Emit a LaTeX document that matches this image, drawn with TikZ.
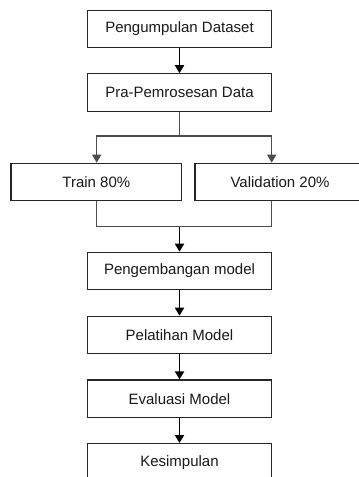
\documentclass[tikz,border=0pt]{standalone}
\usepackage{fontspec}
\setmainfont{Liberation Sans}
\usetikzlibrary{arrows.meta}
\begin{document}
\begin{tikzpicture}[x=1pt,y=-1pt,
  box/.style={draw=black!85, line width=1.1pt, fill=white, inner sep=0pt,
    minimum height=37.5pt, text=black!90, font=\fontsize{15}{17}\selectfont},
  mainbox/.style={box, minimum width=184.4pt},
  flow/.style={draw=black, line width=1.8pt, -{Triangle[width=9pt,length=8pt]}},
  split/.style={draw=black!70, line width=1.2pt},
  splitarrow/.style={split, -{Triangle[width=9pt,length=8pt]}}
]
\useasboundingbox (0,0) rectangle (359,477);
\clip (0,0) rectangle (359,477);
\node[mainbox] (b1) at (179.5,29) {Pengumpulan Dataset};
\node[mainbox] (b2) at (179.5,92.5) {Pra-Pemrosesan Data};
\node[box, minimum width=170.7pt] (train) at (96.3,182) {Train 80\%};
\node[box, minimum width=170pt] (val) at (280,182) {Validation 20\%};
\node[mainbox] (b3) at (179.5,271) {Pengembangan model};
\node[mainbox] (b4) at (179.5,335) {Pelatihan Model};
\node[mainbox] (b5) at (179.5,398.7) {Evaluasi Model};
\node[mainbox] (b6) at (179.5,462.3) {Kesimpulan};
\coordinate (sp) at (179.5,136);
\coordinate (mg) at (179.5,226.7);
\draw[flow] (b1) -- (b2);
\draw[split] (b2.south) -- (sp);
\draw[splitarrow] (sp) -| (train.north -| 96.7,0);
\draw[splitarrow] (sp) -| (val.north -| 271.7,0);
\draw[split] (train.south -| 96.7,0) |- (mg);
\draw[split] (val.south -| 271.7,0) |- (mg);
\draw[flow] (mg) -- (b3);
\draw[flow] (b3) -- (b4);
\draw[flow] (b4) -- (b5);
\draw[flow] (b5) -- (b6);
\end{tikzpicture}
\end{document}
